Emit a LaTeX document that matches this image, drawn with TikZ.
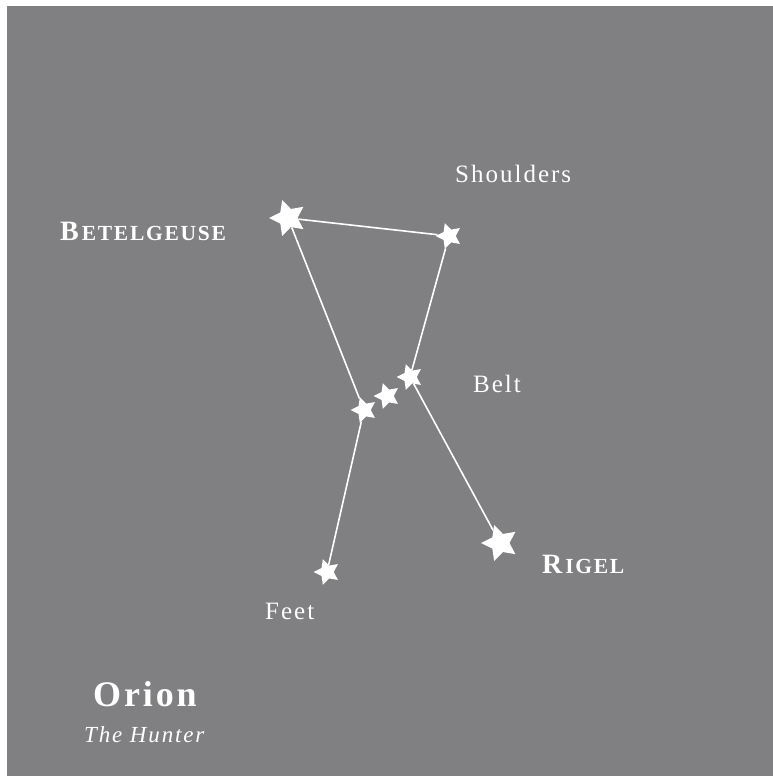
\documentclass[tikz,border=0pt]{standalone}
\usepackage{fontspec}
\setmainfont{Liberation Serif}
\newfontfamily\lab[LetterSpace=8]{Liberation Serif}
\usetikzlibrary{shapes.geometric}
\definecolor{sky}{RGB}{128,127,129}
\tikzset{
  starbig/.style={star, star points=5, star point ratio=2.0, fill=white, draw=none, minimum size=38pt, inner sep=0pt, rotate=18},
  starsmall/.style={star, star points=5, star point ratio=2.0, fill=white, draw=none, minimum size=27pt, inner sep=0pt, rotate=18},
  link/.style={draw=white, line width=1.6pt},
  plain/.style={text=white, anchor=base west, inner sep=0pt, font=\lab\fontsize{25}{25}\selectfont},
}
\newcommand{\fakesc}[2]{{\fontsize{28}{28}\selectfont #1}\kern3pt{\fontsize{21.5}{21.5}\selectfont #2}}
\begin{document}
\begin{tikzpicture}[x=1pt,y=-1pt]
\useasboundingbox (0,0) rectangle (773,776);
\fill[white] (0,0) rectangle (773,776);
\fill[sky] (7,6) rectangle (773,776);
% stars
\node[starbig] (bet) at (288,218) {};
\node[starsmall] (bel) at (449,236) {};
\node[starsmall] (b1) at (410,377) {};
\node[starsmall] (b2) at (387,396) {};
\node[starsmall] (b3) at (364,410) {};
\node[starbig] (rig) at (500,543) {};
\node[starsmall] (sai) at (327,572) {};
% links
\draw[link] (bet) -- (bel);
\draw[link] (bel) -- (b1);
\draw[link] (bet) -- (b3);
\draw[link] (b1) -- (rig);
\draw[link] (b3) -- (sai);
% labels
\node[plain] (tshoulders) at (455,182) {Shoulders};
\node[plain] (tbelt) at (473,392) {Belt};
\node[plain] (tfeet) at (265,619) {Feet};
\node[plain, font=\lab\bfseries] (tbet) at (60,240) {\fakesc{B}{ETELGEUSE}};
\node[plain, font=\lab\bfseries] (trig) at (542,573) {\fakesc{R}{IGEL}};
\node[plain, font=\lab\bfseries\fontsize{36}{36}\selectfont] (torion) at (93,706) {Orion};
\node[plain, font=\lab\itshape\fontsize{23}{23}\selectfont] (thunter) at (84,742) {The Hunter};
\end{tikzpicture}
\end{document}
